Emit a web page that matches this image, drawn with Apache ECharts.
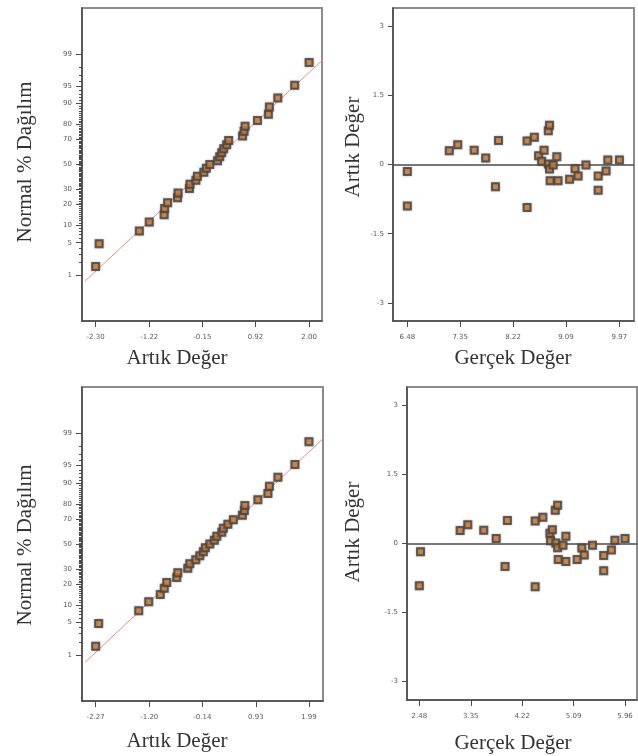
<!DOCTYPE html>
<html>
<head>
<meta charset="utf-8">
<script src="https://cdn.jsdelivr.net/npm/echarts@6/dist/echarts.min.js"></script>
<style>
  html, body { margin: 0; padding: 0; background: #fff; }
  #chart { width: 638px; height: 756px; }
</style>
</head>
<body>
<div id="chart"></div>
<script>
// Plotting positions (cumulative %) shared by both normal probability plots
const normalPct = [1.6, 4.8, 8.1, 11.3, 14.5, 17.7, 21.0, 24.2, 27.4, 30.6, 33.9, 37.1, 40.3,
  43.5, 46.8, 50.0, 53.2, 56.5, 59.7, 62.9, 66.1, 69.4,
  72.6, 75.8, 79.0, 82.3, 85.5, 88.7, 91.9, 95.2, 98.4];

// Sorted residuals, upper model
const residSorted1 = [-2.30, -2.23, -1.42, -1.22, -0.92, -0.91, -0.85, -0.65, -0.64, -0.41, -0.40, -0.28, -0.25,
  -0.12, -0.07, 0.00, 0.155, 0.20, 0.24, 0.28, 0.34, 0.38,
  0.66, 0.69, 0.71, 0.96, 1.18, 1.20, 1.37, 1.71, 2.00];
// Sorted residuals, lower model
const residSorted2 = [-2.27, -2.21, -1.41, -1.21, -0.98, -0.90, -0.85, -0.65, -0.63, -0.43, -0.39, -0.27, -0.19,
  -0.12, -0.08, 0.01, 0.10, 0.15, 0.25, 0.28, 0.37, 0.48,
  0.66, 0.70, 0.71, 0.97, 1.17, 1.20, 1.37, 1.71, 1.99];

// Reference lines [residual, cumulative %]
const refLine1 = [[-2.52, 0.70], [2.27, 98.6]];
const refLine2 = [[-2.48, 0.66], [2.26, 98.6]];

// Residual vs actual, upper model
const actual1 = [6.48, 6.48, 7.17, 7.31, 7.58, 7.77, 7.93, 7.98, 8.45, 8.45, 8.57, 8.64, 8.69, 8.73, 8.80, 8.82,
  8.80, 8.82, 8.83, 8.88, 8.94, 8.96, 9.15, 9.24, 9.29, 9.42, 9.62, 9.62, 9.75, 9.78, 9.97];
const resid1 = [-0.15, -0.90, 0.30, 0.43, 0.31, 0.14, -0.48, 0.52, 0.51, -0.93, 0.59, 0.19, 0.07, 0.31, 0.73, 0.85,
  0.01, -0.10, -0.35, -0.01, 0.17, -0.35, -0.32, -0.09, -0.25, -0.01, -0.25, -0.56, -0.14, 0.10, 0.10];

// Residual vs actual, lower model
const actual2 = [2.50, 2.48, 3.17, 3.30, 3.57, 3.78, 3.93, 3.97, 4.44, 4.44, 4.57, 4.69, 4.73, 4.70, 4.78, 4.82,
  4.79, 4.82, 4.83, 4.91, 4.96, 4.96, 5.15, 5.23, 5.27, 5.41, 5.60, 5.60, 5.73, 5.79, 5.96];
const resid2 = [-0.18, -0.92, 0.28, 0.41, 0.29, 0.11, -0.50, 0.50, 0.49, -0.94, 0.57, 0.22, 0.30, 0.06, 0.72, 0.83,
  0.01, -0.09, -0.35, -0.04, 0.16, -0.39, -0.35, -0.10, -0.25, -0.04, -0.26, -0.59, -0.14, 0.07, 0.11];

// Tick labels
const pctTicks = [1, 5, 10, 20, 30, 50, 70, 80, 90, 95, 99];
const xTicks1 = [-2.30, -1.22, -0.15, 0.92, 2.00];
const xTicks2 = [-2.27, -1.20, -0.14, 0.93, 1.99];
const actTicks1 = [6.48, 7.35, 8.22, 9.09, 9.97];
const actTicks2 = [2.48, 3.35, 4.22, 5.09, 5.96];
const residTicks = [-3, -1.5, 0, 1.5, 3];

// Inverse standard normal CDF (Acklam) for the probability scale
function probit(p) {
  const a = [-3.969683028665376e+01, 2.209460984245205e+02, -2.759285104469687e+02, 1.383577518672690e+02, -3.066479806614716e+01, 2.506628277459239e+00];
  const b = [-5.447609879822406e+01, 1.615858368580409e+02, -1.556989798598866e+02, 6.680131188771972e+01, -1.328068155288572e+01];
  const c = [-7.784894002430293e-03, -3.223964580411365e-01, -2.400758277161838e+00, -2.549732539343734e+00, 4.374664141464968e+00, 2.938163982698783e+00];
  const d = [7.784695709041462e-03, 3.224671290700398e-01, 2.445134137142996e+00, 3.754408661907416e+00];
  const pl = 0.02425, ph = 1 - pl;
  let q, r;
  if (p < pl) {
    q = Math.sqrt(-2 * Math.log(p));
    return (((((c[0]*q+c[1])*q+c[2])*q+c[3])*q+c[4])*q+c[5]) / ((((d[0]*q+d[1])*q+d[2])*q+d[3])*q+1);
  }
  if (p <= ph) {
    q = p - 0.5; r = q * q;
    return (((((a[0]*r+a[1])*r+a[2])*r+a[3])*r+a[4])*r+a[5])*q / (((((b[0]*r+b[1])*r+b[2])*r+b[3])*r+b[4])*r+1);
  }
  q = Math.sqrt(-2 * Math.log(1 - p));
  return -(((((c[0]*q+c[1])*q+c[2])*q+c[3])*q+c[4])*q+c[5]) / ((((d[0]*q+d[1])*q+d[2])*q+d[3])*q+1);
}
const z = pct => probit(pct / 100);

const zMin = z(0.05), zMax = z(99.95);
const majorZ = pctTicks.map(z);
// minor ticks at every whole percent
const minorPct = [];
for (let k = 1; k <= 99; k++) minorPct.push(k);
const minorZ = minorPct.map(z);

const tickLabelStyle = { fontSize: 7, color: '#5a5a5a', fontFamily: 'DejaVu Sans' };
const axisLineStyle = { color: '#4a4a4a', width: 1.5 };

function xAxisDef(gi, min, max, ticks) {
  return {
    type: 'value', gridIndex: gi, min: min, max: max,
    axisLine: { onZero: false, lineStyle: axisLineStyle },
    axisTick: { customValues: ticks, length: 6, lineStyle: { color: '#4a4a4a' } },
    axisLabel: Object.assign({ customValues: ticks, margin: 13, formatter: v => v.toFixed(2) }, tickLabelStyle),
    splitLine: { show: false }
  };
}
function probAxes(gi) {
  return [{
    type: 'value', gridIndex: gi, position: 'left', min: zMin, max: zMax,
    axisLine: { onZero: false, lineStyle: axisLineStyle },
    axisTick: { customValues: majorZ, length: 6, lineStyle: { color: '#4a4a4a' } },
    axisLabel: Object.assign({
      customValues: majorZ, margin: 10,
      formatter: v => {
        const i = majorZ.findIndex(t => Math.abs(t - v) < 1e-6);
        return i >= 0 ? String(pctTicks[i]) : '';
      }
    }, tickLabelStyle),
    splitLine: { show: false }
  }, {
    type: 'value', gridIndex: gi, position: 'left', offset: 0, min: zMin, max: zMax,
    axisLine: { show: false, onZero: false },
    axisTick: { customValues: minorZ, length: 3, lineStyle: { color: '#4a4a4a', width: 1 } },
    axisLabel: { show: false },
    splitLine: { show: false }
  }];
}
function residAxis(gi, lim) {
  return {
    type: 'value', gridIndex: gi, min: -lim, max: lim,
    axisLine: { onZero: false, lineStyle: axisLineStyle },
    axisTick: { customValues: residTicks, length: 5, lineStyle: { color: '#4a4a4a' } },
    axisLabel: Object.assign({ customValues: residTicks, margin: 9, formatter: v => String(v) }, tickLabelStyle),
    splitLine: { show: false }
  };
}

const markerStyle = {
  color: '#db7a26', borderColor: '#444', borderWidth: 2,
  shadowColor: 'rgba(90,90,90,0.55)', shadowBlur: 2
};
function scatter(xi, yi, data) {
  return {
    type: 'scatter', xAxisIndex: xi, yAxisIndex: yi, data: data,
    symbol: 'rect', symbolSize: 7, itemStyle: markerStyle, z: 5
  };
}
function zeroLine() {
  return {
    silent: true, symbol: 'none', label: { show: false },
    lineStyle: { color: '#4a4a4a', width: 1.5, type: 'solid' },
    data: [{ yAxis: 0 }]
  };
}

const probData1 = residSorted1.map((v, i) => [v, z(normalPct[i])]);
const probData2 = residSorted2.map((v, i) => [v, z(normalPct[i])]);
const resData1 = actual1.map((v, i) => [v, resid1[i]]);
const resData2 = actual2.map((v, i) => [v, resid2[i]]);

const gridBase = { show: true, borderColor: '#8c8c8c', borderWidth: 2, backgroundColor: '#fff', containLabel: false };

const titleFont = { fontFamily: 'Liberation Serif', fontSize: 21, fill: '#333' };
function label(text, x, y, rotated) {
  return {
    type: 'text', x: x, y: y, rotation: rotated ? Math.PI / 2 : 0, silent: true,
    style: Object.assign({ text: text, align: 'center', verticalAlign: 'middle' }, titleFont)
  };
}

const chart = echarts.init(document.getElementById('chart'), null, { renderer: 'canvas' });
chart.setOption({
  animation: false,
  backgroundColor: '#fff',
  grid: [
    Object.assign({ left: 82, top: 8, width: 240, height: 313 }, gridBase),
    Object.assign({ left: 393, top: 8, width: 241, height: 313 }, gridBase),
    Object.assign({ left: 82, top: 387, width: 241, height: 314 }, gridBase),
    Object.assign({ left: 407, top: 387, width: 230, height: 313 }, gridBase)
  ],
  xAxis: [
    xAxisDef(0, -2.575, 2.26, xTicks1),
    xAxisDef(1, 6.244, 10.21, actTicks1),
    xAxisDef(2, -2.543, 2.27, xTicks2),
    xAxisDef(3, 2.271, 6.163, actTicks2)
  ],
  yAxis: [].concat(
    probAxes(0),            // 0,1
    [residAxis(1, 3.39)],   // 2
    probAxes(2),            // 3,4
    [residAxis(3, 3.4)]     // 5
  ),
  series: [
    {
      type: 'line', xAxisIndex: 0, yAxisIndex: 0, symbol: 'none', silent: true,
      data: refLine1.map(p => [p[0], z(p[1])]),
      lineStyle: { color: '#f08a80', width: 1 }, z: 3
    },
    scatter(0, 0, probData1),
    Object.assign(scatter(1, 2, resData1), { markLine: zeroLine() }),
    {
      type: 'line', xAxisIndex: 2, yAxisIndex: 3, symbol: 'none', silent: true,
      data: refLine2.map(p => [p[0], z(p[1])]),
      lineStyle: { color: '#f08a80', width: 1 }, z: 3
    },
    scatter(2, 3, probData2),
    Object.assign(scatter(3, 5, resData2), { markLine: zeroLine() })
  ],
  graphic: [
    label('Normal % Dağılım', 25, 162, true),
    label('Artık Değer', 177, 358, false),
    label('Artık Değer', 353, 147, true),
    label('Gerçek Değer', 513, 358, false),
    label('Normal % Dağılım', 25, 545, true),
    label('Artık Değer', 177, 741, false),
    label('Artık Değer', 353, 532, true),
    label('Gerçek Değer', 513, 743, false)
  ]
});
</script>
</body>
</html>
